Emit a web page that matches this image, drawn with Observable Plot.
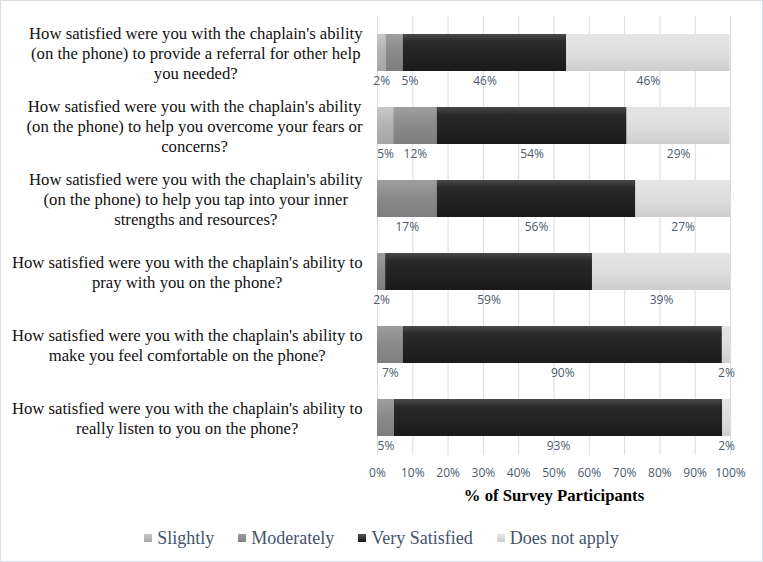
<!DOCTYPE html>
<html>
<head>
<meta charset="utf-8">
<script src="https://cdn.jsdelivr.net/npm/d3@7"></script>
<script src="https://cdn.jsdelivr.net/npm/@observablehq/plot@0.6"></script>
<style>
  body { margin: 0; background: #fff; }
  #wrap { width: 763px; height: 562px; position: relative; overflow: hidden; background: #fff; }
  #frame { position: absolute; left: 0; top: 0; width: 763px; height: 562px; box-sizing: border-box; border: 1px solid #d9dee6; pointer-events: none; }
  #chart svg { display: block; }
  #legend { height: 48px; display: flex; justify-content: center; align-items: center; font-family: "Liberation Serif", "Times New Roman", serif; font-size: 18px; color: #44546a; }
  .item { display: flex; align-items: center; margin: 0 12px; }
  .sw { width: 8px; height: 8px; margin-right: 5px; }
</style>
</head>
<body>
<div id="wrap">
  <div id="chart"></div>
  <div id="legend"></div>
  <div id="frame"></div>
</div>
<script>
// ---- data (top-to-bottom order) ----
const questions = [
  "How satisfied were you with the chaplain's ability\n(on the phone) to provide a referral for other help\nyou needed?",
  "How satisfied were you with the chaplain's ability\n(on the phone) to help you overcome your fears or\nconcerns?",
  "How satisfied were you with the chaplain's ability\n(on the phone) to help you tap into your inner\nstrengths and resources?",
  "How satisfied were you with the chaplain's ability to\npray with you on the phone?",
  "How satisfied were you with the chaplain's ability to\nmake you feel comfortable on the phone?",
  "How satisfied were you with the chaplain's ability to\nreally listen to you on the phone?"
];
const seriesNames = ["Slightly", "Moderately", "Very Satisfied", "Does not apply"];
const slightly      = [2.4, 4.6, 0, 0, 0, 0];
const moderately    = [4.9, 12.3, 16.9, 2.3, 7.3, 4.8];
const verySatisfied = [46.3, 53.8, 56.3, 58.6, 90.4, 93.0];
const doesNotApply  = [46.3, 29.2, 26.8, 39.1, 2.3, 2.2];
const xTicks = [0, 10, 20, 30, 40, 50, 60, 70, 80, 90, 100];
const axisTitle = "% of Survey Participants";

const seriesValues = [slightly, moderately, verySatisfied, doesNotApply];
const gradIds = ["gSlight", "gMod", "gVery", "gNA"];
const swatchCss = [
  "linear-gradient(#c6c6c6,#a9a9a9)",
  "linear-gradient(#9c9c9c,#7f7f7f)",
  "linear-gradient(#555,#111)",
  "linear-gradient(#e6e6e6,#cfcfcf)"
];

// long table
const rows = [];
questions.forEach((q, i) => {
  seriesNames.forEach((s, j) => {
    const v = seriesValues[j][i];
    if (v > 0) rows.push({question: q, series: s, value: v});
  });
});

// label positions: segment midpoints, nudged right when too close
const labels = [];
questions.forEach((q, i) => {
  let cum = 0, last = -Infinity;
  seriesNames.forEach((s, j) => {
    const v = seriesValues[j][i];
    if (v > 0) {
      let mid = cum + v / 2;
      if (mid - last < 8) mid = last + 8;
      last = mid;
      labels.push({question: q, xm: mid, text: Math.round(v) + "%"});
      cum += v;
    }
  });
});

// measure question blocks so widest line ends at fixed point
const ctx = document.createElement("canvas").getContext("2d");
ctx.font = "16.7px 'Liberation Serif'";
const blockW = questions.map(q => d3.max(q.split("\n"), l => ctx.measureText(l).width));

const W = 763, H = 514, mL = 377, mR = 33, mT = 16, mB = 59;
const labelColor = "#4d5a6e";

const marks = [
  Plot.gridX(xTicks, {stroke: "#d9dce3", strokeOpacity: 1}),
  Plot.barX(rows, {x: "value", y: "question", fill: "series"}),
  Plot.text(labels, {x: "xm", y: "question", text: "text", dy: 28, fontSize: 12, fontFamily: "Open Sans", fill: labelColor}),
  Plot.axisX(xTicks, {tickSize: 0, tickPadding: 13, tickFormat: d => d + "%", fontSize: 12, fontFamily: "Open Sans", fill: labelColor, label: null}),
  Plot.text([axisTitle], {text: d => d, frameAnchor: "bottom", dy: 40, lineAnchor: "middle", fontSize: 16.7, fontWeight: "bold", fontFamily: "Liberation Serif", fill: "#000"}),
  ...questions.map((q, i) => Plot.text([q], {
    y: d => d, text: d => d, frameAnchor: "left", dx: -(mL - 362) - blockW[i] / 2,
    textAnchor: "middle", lineAnchor: "middle", lineHeight: 1.2,
    fontSize: 16.7, fontFamily: "Liberation Serif", fill: "#111"
  }))
];

const svg = Plot.plot({
  width: W, height: H,
  marginLeft: mL, marginRight: mR, marginTop: mT, marginBottom: mB,
  x: {domain: [0, 100], axis: null},
  y: {domain: questions, axis: null, paddingInner: 0.49, paddingOuter: 0.25},
  color: {domain: seriesNames, range: gradIds.map(id => `url(#${id})`)},
  style: {background: "transparent", overflow: "visible"},
  marks
});

// gradients mimicking the spreadsheet bar shading
const defs = d3.select(svg).insert("defs", ":first-child");
const stops = [
  [["0%", "#c8c8c8"], ["45%", "#b4b4b4"], ["100%", "#a6a6a6"]],
  [["0%", "#9e9e9e"], ["45%", "#8b8b8b"], ["100%", "#7e7e7e"]],
  [["0%", "#4a4a4a"], ["20%", "#2a2a2a"], ["60%", "#222"], ["100%", "#1a1a1a"]],
  [["0%", "#e4e4e4"], ["50%", "#dedede"], ["100%", "#cdcdcd"]]
];
gradIds.forEach((id, k) => {
  const g = defs.append("linearGradient").attr("id", id).attr("x1", 0).attr("y1", 0).attr("x2", 0).attr("y2", 1);
  stops[k].forEach(([o, c]) => g.append("stop").attr("offset", o).attr("stop-color", c));
});

document.getElementById("chart").appendChild(svg);

// legend
const leg = d3.select("#legend");
seriesNames.forEach((s, k) => {
  const it = leg.append("div").attr("class", "item");
  it.append("div").attr("class", "sw").style("background", swatchCss[k]);
  it.append("span").text(s);
});
</script>
</body>
</html>
